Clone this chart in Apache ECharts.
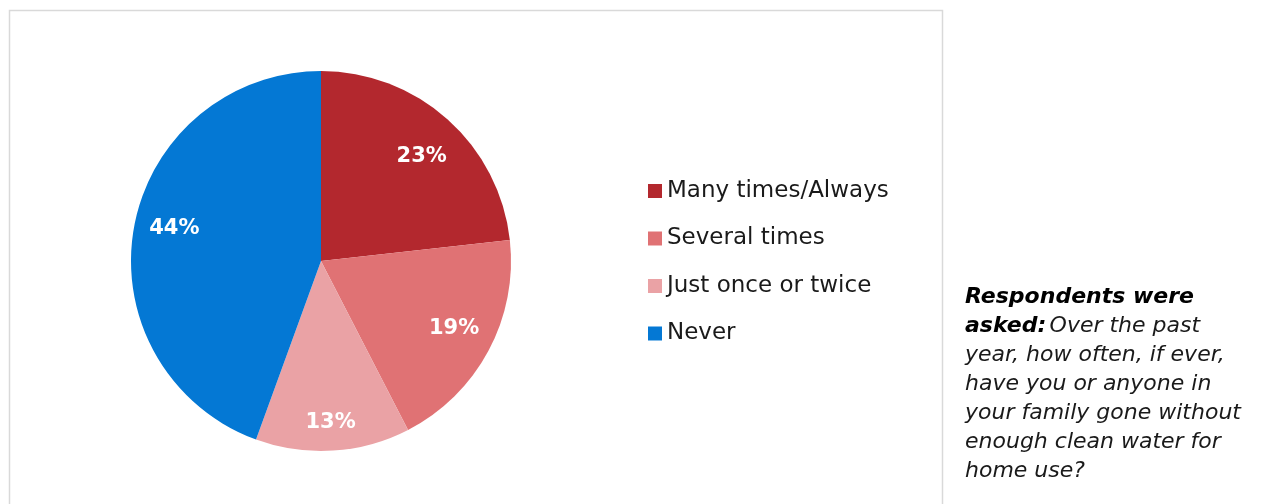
<!DOCTYPE html>
<html><head><meta charset="utf-8">
<script src="https://cdn.jsdelivr.net/npm/echarts@6/dist/echarts.min.js"></script>
<style>html,body{margin:0;padding:0;background:#fff}#c{width:1263px;height:504px}</style>
</head><body><div id="c"></div>
<script>
const categories = ['Many times/Always', 'Several times', 'Just once or twice', 'Never'];
const values = [23, 19, 13, 44];
const colors = ['#B3282E', '#E07274', '#EAA2A5', '#0478D4'];
const noteLines = ['Over the past', 'year, how often, if ever,', 'have you or anyone in', 'your family gone without', 'enough clean water for', 'home use?'];

const data = categories.map((n, i) => ({ name: n, value: values[i], itemStyle: { color: colors[i] } }));
const FONT = '"DejaVu Sans", sans-serif';
const labelShift = [[0, 8], [0, -4], [0, 11], [2, -6]];
const chart = echarts.init(document.getElementById('c'), null, { renderer: 'canvas' });
chart.setOption({
  animation: false,
  legend: {
    orient: 'vertical', left: 643, top: 174,
    itemWidth: 14, itemHeight: 14, itemGap: 23.5,
    icon: 'rect',
    data: categories,
    textStyle: { fontFamily: FONT, fontSize: 23, color: '#1a1a1a', lineHeight: 24 }
  },
  graphic: [
    { type: 'rect', shape: { x: 9.5, y: 10.5, width: 933, height: 520 }, style: { fill: 'none', stroke: '#d9d9d9', lineWidth: 1.5 }, silent: true },
    { type: 'text', left: 965, top: 286, style: {
        text: '{b|Respondents were}\n{b|asked:} {i|' + noteLines[0] + '}\n' + noteLines.slice(1).map(l => '{i|' + l + '}').join('\n'),
        rich: {
          b: { fontFamily: FONT, fontSize: 22, fontWeight: 'bold', fontStyle: 'italic', fill: '#000', lineHeight: 29 },
          i: { fontFamily: FONT, fontSize: 22, fontStyle: 'italic', fill: '#1a1a1a', lineHeight: 29 }
        } } }
  ],
  series: [
    {
      type: 'pie', center: [321, 261], radius: 190, startAngle: 90, clockwise: true,
      label: { show: false }, labelLine: { show: false }, silent: true,
      data: data
    },
    {
      type: 'pie', center: [321, 261], radius: [106, 190], startAngle: 90, clockwise: true,
      silent: true, legendHoverLink: false,
      itemStyle: { color: 'rgba(0,0,0,0)' },
      label: { show: true, position: 'inside', formatter: '{c}%', color: '#fff', fontFamily: FONT, fontWeight: 'bold', fontSize: 21 },
      labelLine: { show: false },
      labelLayout: function (p) { const s = labelShift[p.dataIndex] || [0, 0]; return { dx: s[0], dy: s[1] }; },
      data: values.map((v, i) => ({ name: categories[i] + ' ', value: v }))
    }
  ]
});
</script></body></html>
